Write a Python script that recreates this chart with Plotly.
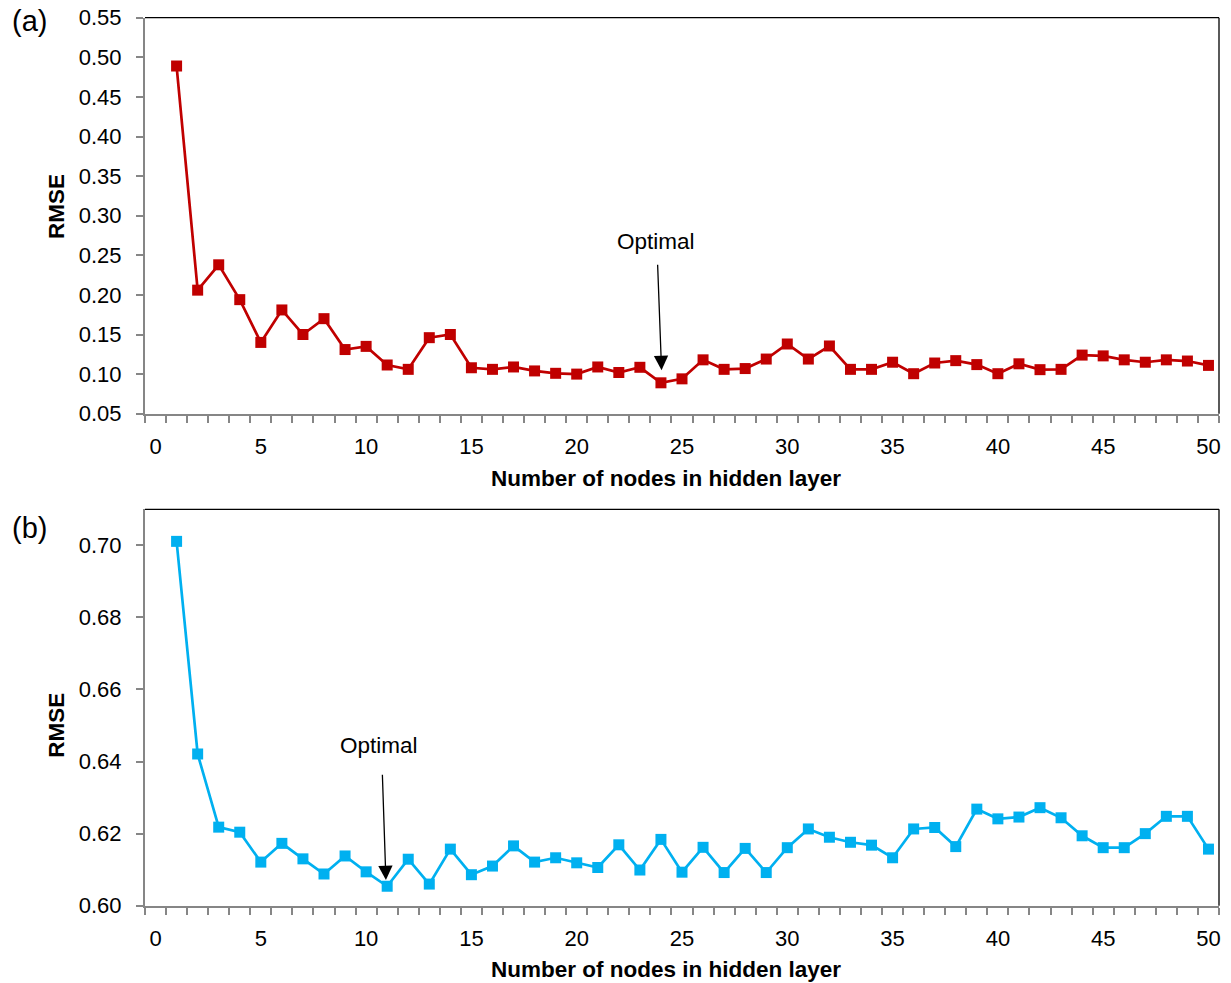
import plotly.graph_objects as go

nodes = list(range(1, 51))
rmse_a = [0.489, 0.206, 0.238, 0.194, 0.140, 0.181, 0.150, 0.170, 0.131, 0.135,
          0.1115, 0.106, 0.146, 0.150, 0.108, 0.106, 0.109, 0.104, 0.101, 0.100,
          0.109, 0.102, 0.1086, 0.089, 0.094, 0.118, 0.106, 0.107, 0.119, 0.138,
          0.119, 0.1355, 0.106, 0.106, 0.115, 0.1005, 0.114, 0.117, 0.112, 0.1005,
          0.113, 0.1056, 0.106, 0.124, 0.123, 0.118, 0.115, 0.118, 0.1165, 0.111]
rmse_b = [0.7011, 0.6421, 0.6218, 0.6204, 0.6121, 0.6173, 0.6130, 0.6088, 0.6138, 0.6094,
          0.6054, 0.6129, 0.6060, 0.6157, 0.6086, 0.6110, 0.6166, 0.6121, 0.6133, 0.6119,
          0.6106, 0.6169, 0.6099, 0.6184, 0.6093, 0.6162, 0.6092, 0.6159, 0.6092, 0.6161,
          0.6213, 0.6190, 0.6176, 0.6168, 0.6133, 0.6213, 0.6217, 0.6164, 0.6268, 0.6241,
          0.6246, 0.6272, 0.6244, 0.6194, 0.6161, 0.6161, 0.6200, 0.6248, 0.6248, 0.6157]
x_ticks = list(range(0, 51, 5))
ya_ticks = [0.05, 0.10, 0.15, 0.20, 0.25, 0.30, 0.35, 0.40, 0.45, 0.50, 0.55]
yb_ticks = [0.60, 0.62, 0.64, 0.66, 0.68, 0.70]

W, H = 1231, 983
FONT = "Arial, Liberation Sans, Arimo, sans-serif"
AXGRAY = "#868686"

fig = go.Figure()
fig.add_trace(go.Scatter(x=nodes, y=rmse_a, mode="lines+markers",
                         line=dict(color="#C00000", width=2.7),
                         marker=dict(symbol="square", size=11, color="#C00000"),
                         xaxis="x", yaxis="y", showlegend=False, cliponaxis=False))
fig.add_trace(go.Scatter(x=nodes, y=rmse_b, mode="lines+markers",
                         line=dict(color="#00B0F0", width=2.7),
                         marker=dict(symbol="square", size=11, color="#00B0F0"),
                         xaxis="x2", yaxis="y2", showlegend=False, cliponaxis=False))

xdom = [145 / W, 1219 / W]
ydom_a = [1 - 413.7 / H, 1 - 17.7 / H]
ydom_b = [1 - 905.7 / H, 1 - 509.3 / H]

def xax(anchor):
    return dict(domain=xdom, anchor=anchor, range=[-0.5, 50.5], tickmode="array",
                tickvals=x_ticks, ticks="", showgrid=False, zeroline=False, automargin=False,
                showline=True, linecolor=AXGRAY, linewidth=2,
                tickfont=dict(size=22, color="black", family=FONT),
                ticklabelstandoff=12,
                minor=dict(tick0=-0.5, dtick=1, ticks="outside", ticklen=7,
                           tickcolor=AXGRAY, tickwidth=1.5, showgrid=False))

def yax(anchor, dom, rng, tv):
    return dict(domain=dom, anchor=anchor, range=rng, tickmode="array", tickvals=tv,
                tickformat=".2f", ticks="outside", ticklen=7, tickcolor=AXGRAY, tickwidth=1.5,
                showgrid=False, zeroline=False, showline=True, linecolor=AXGRAY, linewidth=2,
                automargin=False,
                tickfont=dict(size=22, color="black", family=FONT), ticklabelstandoff=10)

fig.update_layout(
    width=W, height=H, margin=dict(l=0, r=0, t=0, b=0, autoexpand=False),
    paper_bgcolor="white", plot_bgcolor="white",
    font=dict(family=FONT, color="black"),
    xaxis=xax("y"), yaxis=yax("x", ydom_a, [0.05, 0.55], ya_ticks),
    xaxis2=xax("y2"), yaxis2=yax("x2", ydom_b, [0.60, 0.71], yb_ticks),
)

# top and right borders
for xr, yr in (("x domain", "y domain"), ("x2 domain", "y2 domain")):
    fig.add_shape(type="line", xref=xr, yref=yr, x0=0, x1=1, y0=1, y1=1,
                  line=dict(color="black", width=1.3))
    fig.add_shape(type="line", xref=xr, yref=yr, x0=1, x1=1, y0=0, y1=1,
                  line=dict(color="black", width=1.3))

ann = []
# axis titles
for yc in (1 - 478 / H, 1 - 969 / H):
    ann.append(dict(text="<b>Number of nodes in hidden layer</b>", xref="paper", yref="paper",
                    x=666 / W, y=yc, showarrow=False, font=dict(size=22.5, family=FONT),
                    xanchor="center", yanchor="middle"))
for yc in (1 - 207 / H, 1 - 725.8 / H):
    ann.append(dict(text="<b>RMSE</b>", xref="paper", yref="paper", x=57 / W, y=yc,
                    showarrow=False, textangle=-90, font=dict(size=22.5, family=FONT),
                    xanchor="center", yanchor="middle"))
ann.append(dict(text="(a)", xref="paper", yref="paper", x=29 / W, y=1 - 21 / H,
                showarrow=False, font=dict(size=29, family=FONT), xanchor="center", yanchor="middle"))
ann.append(dict(text="(b)", xref="paper", yref="paper", x=29 / W, y=1 - 528 / H,
                showarrow=False, font=dict(size=29, family=FONT), xanchor="center", yanchor="middle"))

# Optimal labels and arrows
ann.append(dict(text="Optimal", xref="x", yref="y", x=23.76, y=0.2668, showarrow=False,
                font=dict(size=22.5, family=FONT), xanchor="center", yanchor="middle"))
ann.append(dict(text="", xref="x", yref="y", x=24.03, y=0.105, axref="x", ayref="y",
                ax=23.84, ay=0.240, showarrow=True, arrowhead=2, arrowsize=2.2,
                arrowwidth=1.3, arrowcolor="black"))
ann.append(dict(text="Optimal", xref="x2", yref="y2", x=10.61, y=0.6444, showarrow=False,
                font=dict(size=22.5, family=FONT), xanchor="center", yanchor="middle"))
ann.append(dict(text="", xref="x2", yref="y2", x=10.94, y=0.60714, axref="x2", ayref="y2",
                ax=10.77, ay=0.63678, showarrow=True, arrowhead=2, arrowsize=2.2,
                arrowwidth=1.3, arrowcolor="black"))
fig.update_layout(annotations=ann)

fig.write_html("out.html", config={"displayModeBar": False},
               post_script="document.body.style.margin='0';document.body.style.overflow='hidden';")
